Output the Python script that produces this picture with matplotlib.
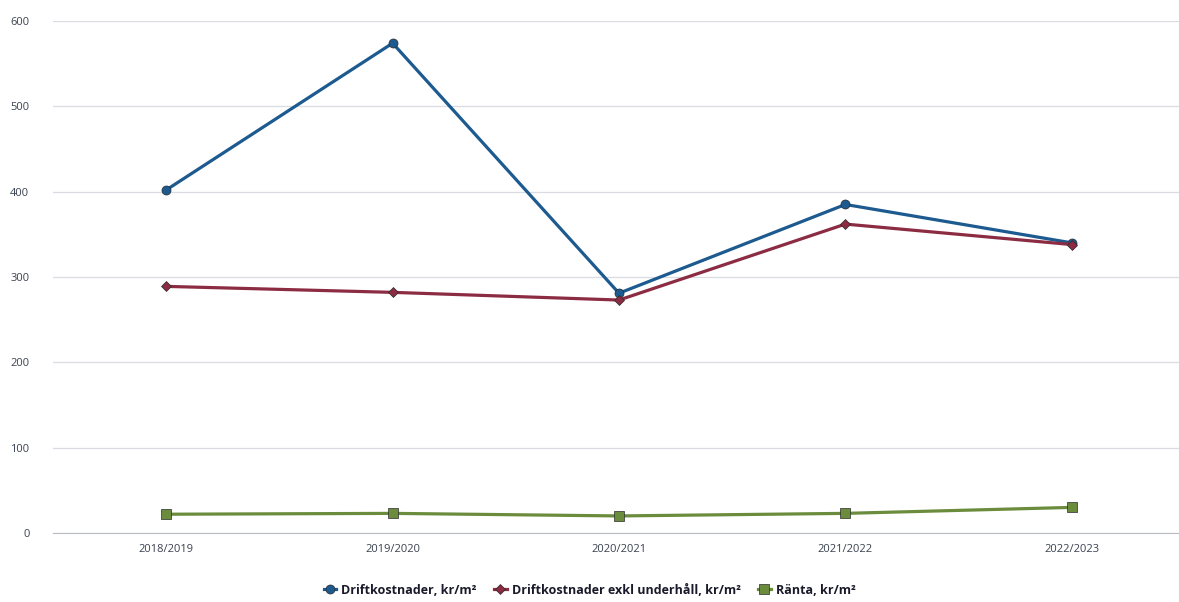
import matplotlib
matplotlib.use("Agg")
import matplotlib.pyplot as plt
from matplotlib.lines import Line2D

categories = ["2018/2019", "2019/2020", "2020/2021", "2021/2022", "2022/2023"]
drift = [402, 574, 281, 385, 340]
drift_exkl = [289, 282, 273, 362, 338]
ranta = [22, 23, 20, 23, 30]
yticks = [0, 100, 200, 300, 400, 500, 600]

labels = ["Driftkostnader, kr/m²", "Driftkostnader exkl underhåll, kr/m²", "Ränta, kr/m²"]
colors = ["#1c5a8f", "#8c2c43", "#6a8c3c"]
markers = ["o", "D", "s"]
msizes = [6.5, 5, 6.5]

plt.rcParams['font.family'] = ['Open Sans', 'DejaVu Sans']

fig = plt.figure(figsize=(11.79, 6.02), dpi=100)
ax = fig.add_axes([53/1179, 69/602, 1132/1179, 512/602])

x = list(range(len(categories)))
for vals, c, m, ms in zip([drift, drift_exkl, ranta], colors, markers, msizes):
    ax.plot(x, vals, color=c, lw=2.3, marker=m, ms=ms, mfc=c, mec="#2a2a2a", mew=0.5, zorder=3)

ax.set_xlim(-0.5, len(categories) - 0.5)
ax.set_ylim(0, 600)
ax.set_yticks(yticks)
ax.set_yticklabels([str(v) for v in yticks])
ax.set_xticks(x)
ax.set_xticklabels(categories)
ax.grid(axis="y", color="#d9dde3", lw=0.9)
ax.set_axisbelow(True)
for s in ["top", "right", "left"]:
    ax.spines[s].set_visible(False)
ax.spines["bottom"].set_color("#b8bcc4")
ax.tick_params(axis="both", length=0, labelsize=8, colors="#3a4250")
ax.tick_params(axis="y", pad=17)
ax.tick_params(axis="x", pad=8)

handles = [Line2D([0], [0], color=c, lw=2.3, marker=m, ms=ms, mfc=c, mec="#2a2a2a", mew=0.5)
           for c, m, ms in zip(colors, markers, msizes)]
leg = fig.legend(handles, labels, loc="center", bbox_to_anchor=(0.5, 12/602), ncol=3, frameon=False,
                 handlelength=1.0, handletextpad=0.4, columnspacing=1.4,
                 prop={"weight": "bold", "size": 9})
for t in leg.get_texts():
    t.set_color("#1a1a2a")

fig.savefig("out.png", dpi=100)
